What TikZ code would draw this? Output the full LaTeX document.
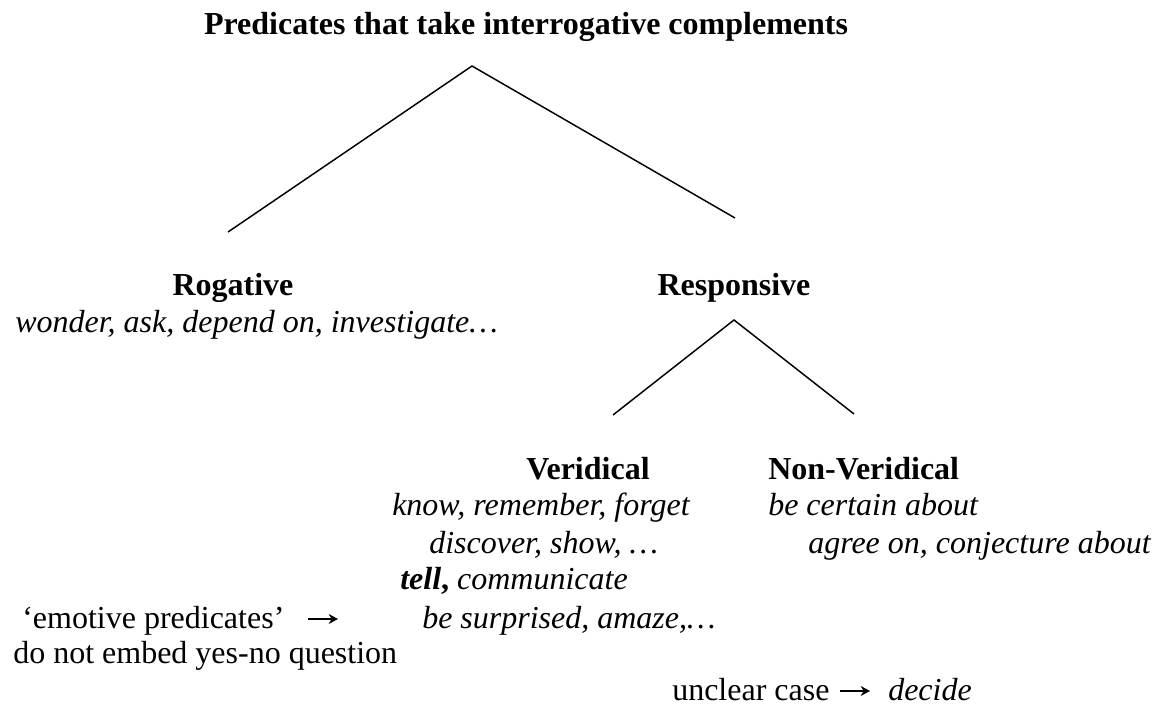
\documentclass[tikz,border=0pt]{standalone}
\usepackage{fontspec}
\setmainfont{Liberation Serif}
\usetikzlibrary{arrows.meta}
\begin{document}
\begin{tikzpicture}[x=0.75pt,y=-0.75pt,
  txt/.style={inner sep=0pt,anchor=base west,font=\fontsize{24}{28}\selectfont},
  hd/.style={txt,font=\fontsize{24}{28}\selectfont\bfseries},
  it/.style={txt,font=\fontsize{24}{28}\selectfont\itshape},
  branch/.style={line width=1.1pt},
  pointer/.style={line width=2.2pt,-{Stealth[length=7pt,width=7.5pt]}}]
\useasboundingbox (0,0) rectangle (1156,706);

% titles and categories
\node[hd,anchor=base] (title) at (526,35) {Predicates that take interrogative complements};
\node[hd,anchor=base] (rog) at (233,295) {Rogative};
\node[it] (rogex) at (15,332) {wonder, ask, depend on, investigate…};
\node[hd,anchor=base] (resp) at (734,295) {Responsive};
\node[hd,anchor=base] (ver) at (588,479) {Veridical};
\node[hd] (nonver) at (768,479) {Non-Veridical};

% examples
\node[it] (verA) at (392,515) {know, remember, forget};
\node[it] (verB) at (429,553) {discover, show, …};
\node[it] (verC) at (400,589) {\textbf{tell}{\upshape\bfseries,} communicate};
\node[it] (verD) at (422,628) {be surprised, amaze,…};
\node[it] (nvA) at (768,515) {be certain about};
\node[it] (nvB) at (808,553) {agree on, conjecture about};

\node[txt] (emo) at (22,628) {‘emotive predicates’};
\node[txt] (emoB) at (13,663) {do not embed yes-no question};
\node[txt] (unc) at (672,700) {unclear case};
\node[it] (dec) at (888,700) {decide};

% tree branches
\coordinate (top) at (472,66);
\coordinate (topL) at (228,232);
\coordinate (topR) at (735,218);
\coordinate (sub) at (734,320);
\coordinate (subL) at (613,415);
\coordinate (subR) at (854,414);
\draw[branch] (topL) -- (top) -- (topR);
\draw[branch] (subL) -- (sub) -- (subR);

% pointers
\coordinate (pa1) at (308,619);
\coordinate (pa2) at (338,619);
\coordinate (pb1) at (840,691);
\coordinate (pb2) at (870,691);
\draw[pointer] (pa1) -- (pa2);
\draw[pointer] (pb1) -- (pb2);
\end{tikzpicture}
\end{document}
